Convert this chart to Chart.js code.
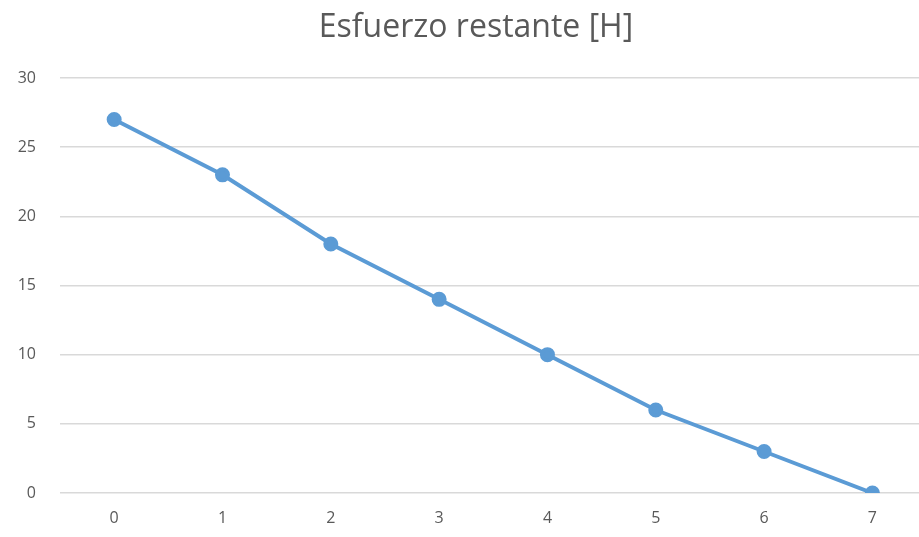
<!DOCTYPE html>
<html><head><meta charset="utf-8">
<script src="https://cdn.jsdelivr.net/npm/chart.js@4"></script>
<style>html,body{margin:0;padding:0;background:#fff;overflow:hidden}canvas{display:block}</style>
</head><body><canvas id="c" width="919" height="537"></canvas>
<script>
const titleText = 'Esfuerzo restante [H]';
const categories = [0, 1, 2, 3, 4, 5, 6, 7];
const values = [27, 23, 18, 14, 10, 6, 3, 0];
const yTicks = [0, 5, 10, 15, 20, 25, 30];

const titlePlugin = {
  id: 'customTitle',
  afterDraw(chart) {
    const ctx = chart.ctx;
    ctx.save();
    ctx.fillStyle = '#595959';
    ctx.font = "32px 'Open Sans', sans-serif";
    ctx.textAlign = 'center';
    ctx.textBaseline = 'middle';
    ctx.fillText(titleText, 476, 28);
    ctx.restore();
  }
};

new Chart(document.getElementById('c'), {
  type: 'line',
  data: { datasets: [{
    data: categories.map((c, i) => ({ x: c, y: values[i] })),
    borderColor: '#5B9BD5', backgroundColor: '#5B9BD5',
    borderWidth: 4, pointRadius: 5.5, pointHoverRadius: 5.5, tension: 0, fill: false
  }]},
  plugins: [titlePlugin],
  options: {
    responsive: false, animation: false,
    devicePixelRatio: 1,
    layout: { autoPadding: false, padding: { left: 0, right: 0, top: 78, bottom: 0 } },
    plugins: { legend: { display: false }, tooltip: { enabled: false }, title: { display: false } },
    scales: {
      x: { type: 'linear', min: -0.5, max: 7.43,
        afterBuildTicks: s => { s.ticks = categories.map(v => ({ value: v })); },
        afterFit: s => { s.height = 44; },
        grid: { display: false, drawTicks: false }, border: { display: false },
        ticks: { color: '#595959', font: { family: "'Open Sans',sans-serif", size: 16 }, padding: 16 } },
      y: { min: 0, max: 30, afterBuildTicks: s => { s.ticks = yTicks.map(v => ({ value: v })); },
        afterFit: s => { s.width = 60; },
        grid: { color: '#d9d9d9', lineWidth: 1.5, drawTicks: false }, border: { display: false },
        ticks: { color: '#595959', font: { family: "'Open Sans',sans-serif", size: 16 }, padding: 24 } }
    }
  }
});
</script></body></html>
